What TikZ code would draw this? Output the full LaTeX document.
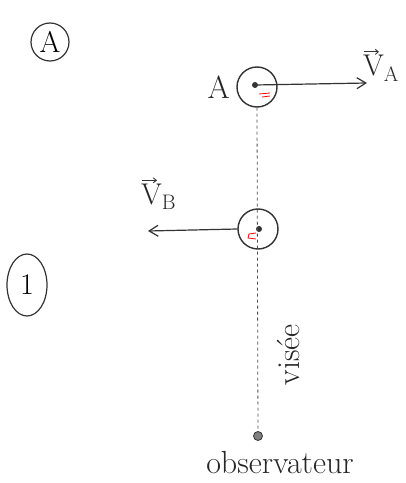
\documentclass[tikz,border=0pt]{standalone}
\usepackage{tikz}
\usetikzlibrary{arrows.meta,shapes.geometric}

\begin{document}
\begin{tikzpicture}[
    x=1pt, y=1pt,
    body/.style={
        circle,
        draw=black!80,
        line width=1.4pt,
        minimum size=40pt,
        inner sep=0pt
    },
    centre/.style={circle, fill=black!80, inner sep=0pt, minimum size=6pt},
    tag/.style={
        ellipse,
        draw=black!80,
        line width=1.2pt,
        inner sep=1pt,
        font=\fontsize{30}{34}\selectfont
    },
    hand/.style={font=\fontsize{32}{36}\selectfont, text=black!85},
    speed/.style={font=\fontsize{30}{34}\selectfont, inner sep=1pt, text=black!85},
    arrow/.style={-{Straight Barb[length=9pt,width=11pt]}, line width=1.2pt, draw=black!80},
    over/.style={-{Straight Barb[length=3pt,width=5pt]}, line width=0.9pt, draw=black!80},
    sight/.style={dashed, line width=0.8pt, draw=black!70}
]
\useasboundingbox (0,0) rectangle (406,483);

\node[tag, minimum width=38pt, minimum height=38pt] (caseA) at (50,441) {A};
\node[tag, minimum width=40pt, minimum height=62pt] (caseOne) at (27,198) {1};

\node[body] (objA) at (257,396) {};
\node[centre] (ctrA) at (255,398) {};
\node[hand, left=3pt] (labA) at (objA.west) {A};

\node[body] (objB) at (258,254) {};
\node[centre] (ctrB) at (259,254) {};

\node[circle, draw=black!80, thick, fill=gray, inner sep=0pt, minimum size=9pt] (obs) at (258,47) {};

\coordinate (tipA) at (367,400);
\coordinate (tipB) at (148,252);

\draw[sight] (objA.south) -- (obs);
\draw[arrow] (ctrA) -- (tipA);
\draw[arrow] (objB.west) -- (tipB);

\node[speed, anchor=south west] (vA) at (362,400) {V\textsubscript{A}};
\node[speed, anchor=south west] (vB) at (140,272) {V\textsubscript{B}};
\draw[over] ([xshift=2pt,yshift=2pt]vA.north west) -- ++(15,0);
\draw[over] ([xshift=2pt,yshift=2pt]vB.north west) -- ++(15,0);

\node[hand, rotate=90] (sightLab) at (288,128) {visée};
\node[hand] (obsLab) at (280,20) {observateur};

% petites marques rouges
\draw[red, thick] (259,389) -- (270,390) (262,386) -- (270,387);
\draw[red, thick] (256,250) -- (249,249) -- (248,245) -- (256,244);

\end{tikzpicture}
\end{document}
